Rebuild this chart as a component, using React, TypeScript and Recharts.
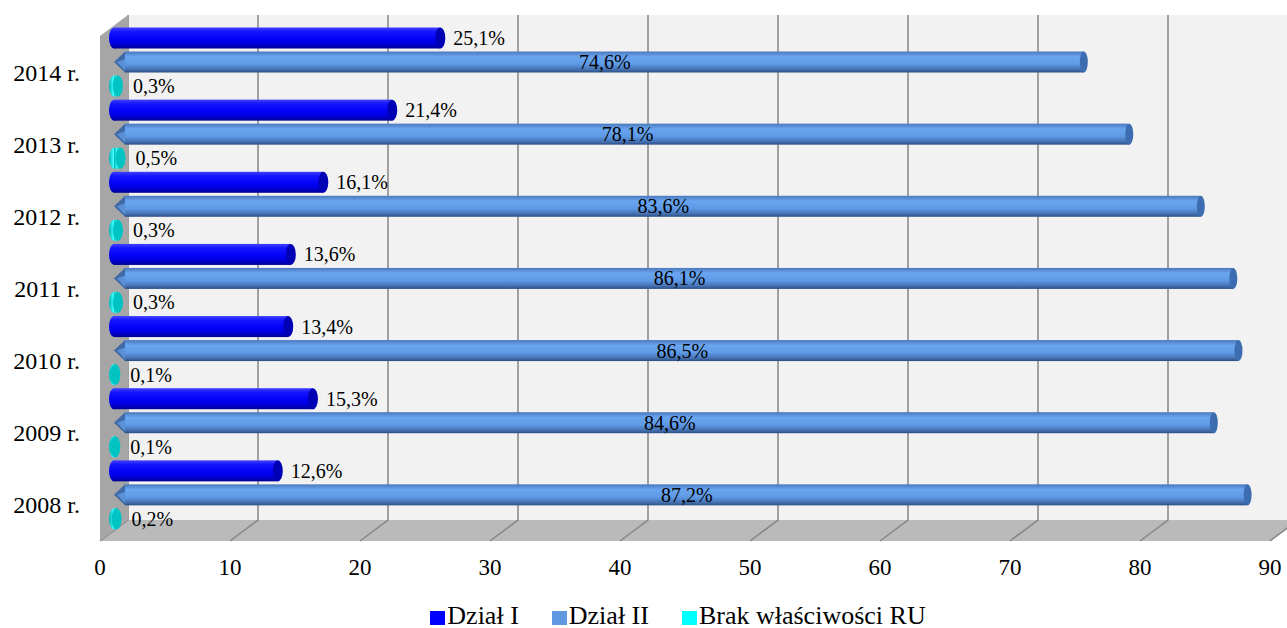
import React from 'react';
import { BarChart, Bar, XAxis, YAxis, Legend, LabelList, usePlotArea } from 'recharts';

const years = ['2014 r.', '2013 r.', '2012 r.', '2011 r.', '2010 r.', '2009 r.', '2008 r.'];
const dzialI = [25.1, 21.4, 16.1, 13.6, 13.4, 15.3, 12.6];
const dzialII = [74.6, 78.1, 83.6, 86.1, 86.5, 84.6, 87.2];
const brakRU = [0.3, 0.5, 0.3, 0.3, 0.1, 0.1, 0.2];
const xTicks = [0, 10, 20, 30, 40, 50, 60, 70, 80, 90];
const X_MAX = 90;

const data = years.map((year, i) => ({ year, d1: dzialI[i], d2: dzialII[i], brak: brakRU[i] }));

const FONT = '"Liberation Serif", "Times New Roman", serif';
// 3D depth of the "box"
const DX = 28;
const DY = 21;

const fmt = (v: number) => v.toFixed(1).replace('.', ',') + '%';

// back wall, side wall, floor and the gridlines on them
function Walls() {
  const area = usePlotArea();
  if (!area) return null;
  const { x, y, width: w, height: h } = area;
  const bottom = y + h;
  return (
    <g>
      <defs>
        <linearGradient id="gD1" x1="0" y1="0" x2="0" y2="1">
          <stop offset="0%" stopColor="#4040ff" />
          <stop offset="20%" stopColor="#1515ff" />
          <stop offset="60%" stopColor="#0000f5" />
          <stop offset="85%" stopColor="#0000c8" />
          <stop offset="100%" stopColor="#000090" />
        </linearGradient>
        <linearGradient id="gD2" x1="0" y1="0" x2="0" y2="1">
          <stop offset="0%" stopColor="#4a78bd" />
          <stop offset="25%" stopColor="#6aa5f0" />
          <stop offset="60%" stopColor="#5f9ae6" />
          <stop offset="85%" stopColor="#4673b5" />
          <stop offset="100%" stopColor="#2c4f85" />
        </linearGradient>
        <linearGradient id="gBr" x1="0" y1="0" x2="1" y2="0">
          <stop offset="0%" stopColor="#00b0b0" />
          <stop offset="45%" stopColor="#40ffff" />
          <stop offset="100%" stopColor="#00a0a0" />
        </linearGradient>
      </defs>
      <rect x={x + DX} y={y - DY} width={w} height={h} fill="#f2f2f2" />
      <polygon points={`${x},${bottom} ${x + w},${bottom} ${x + w + DX},${bottom - DY} ${x + DX},${bottom - DY}`} fill="#bababa" />
      {xTicks.map((t) => {
        const tx = x + (t / X_MAX) * w;
        return (
          <polyline
            key={t}
            points={`${tx},${bottom} ${tx + DX},${bottom - DY} ${tx + DX},${y - DY}`}
            fill="none"
            stroke="#868686"
            strokeWidth={1.5}
          />
        );
      })}
      <polygon points={`${x},${y} ${x + DX},${y - DY} ${x + DX},${bottom - DY} ${x},${bottom}`} fill="#a6a6a6" />
    </g>
  );
}

const makeCylinder = (grad: string, cap: string, arrow: boolean) => (props: any) => {
  const { x, y, width, height } = props;
  const x0 = x + DX / 2;
  const y0 = y - DY / 2;
  const x1 = x0 + width;
  const cy = y0 + height / 2;
  const ry = height / 2;
  const rx = 4;
  if (arrow) {
    const xs = x0 + 11;
    return (
      <g>
        <rect x={xs} y={y0} width={Math.max(x1 - xs, 0)} height={height} fill={`url(#${grad})`} />
        <polygon points={`${x0},${cy} ${xs},${y0} ${xs},${y0 + height}`} fill="#3f6aa6" />
        <polygon points={`${x0 + 3},${cy} ${xs},${cy - 3} ${xs},${y0 + height - 2}`} fill="#5b8fd6" />
        <ellipse cx={x1} cy={cy} rx={rx} ry={ry} fill={cap} />
      </g>
    );
  }
  return (
    <g>
      <ellipse cx={x0} cy={cy} rx={rx + 1} ry={ry} fill={`url(#${grad})`} />
      <rect x={x0} y={y0} width={width} height={height} fill={`url(#${grad})`} />
      <ellipse cx={x1} cy={cy} rx={rx + 1} ry={ry} fill={cap} />
    </g>
  );
};

const labelRight = (gap: number) => (p: any) => (
  <text
    x={p.x + p.width + gap}
    y={p.y + p.height / 2 - DY / 2}
    dy="0.35em"
    fontFamily={FONT}
    fontSize={20}
    fill="#000"
  >
    {fmt(p.value)}
  </text>
);

const labelCenter = (p: any) => (
  <text
    x={p.x + DX / 2 + p.width / 2 + 6}
    y={p.y + p.height / 2 - DY / 2}
    dy="0.35em"
    textAnchor="middle"
    fontFamily={FONT}
    fontSize={20}
    fill="#000"
  >
    {fmt(p.value)}
  </text>
);

const legendItems = [
  { name: 'Dział I', color: '#0000ff' },
  { name: 'Dział II', color: '#5f97e0' },
  { name: 'Brak właściwości RU', color: '#00ffff' },
];

const renderLegend = () => (
  <div
    style={{
      height: 42,
      display: 'flex',
      justifyContent: 'center',
      alignItems: 'flex-start',
      paddingTop: 16,
      paddingLeft: 86,
      boxSizing: 'border-box',
      gap: 33,
      fontFamily: FONT,
      fontSize: 26,
      lineHeight: '28px',
      color: '#000',
    }}
  >
    {legendItems.map((it) => (
      <div key={it.name} style={{ display: 'flex', alignItems: 'center' }}>
        <span style={{ width: 15, height: 14, background: it.color, display: 'inline-block', marginRight: 2, marginTop: 4 }} />
        <span>{it.name}</span>
      </div>
    ))}
  </div>
);

export default function App() {
  return (
    <div style={{ position: 'absolute', left: 0, top: 0, background: '#fff' }}>
      <BarChart
        width={1287}
        height={628}
        data={data}
        layout="vertical"
        margin={{ top: 36, right: 17, left: 0, bottom: 0 }}
        barSize={21}
        barGap={3}
      >
        <Walls />
        <XAxis
          type="number"
          domain={[0, X_MAX]}
          ticks={xTicks}
          interval={0}
          axisLine={false}
          tickLine={false}
          tickSize={0}
          tickMargin={18}
          height={45}
          tick={{ fontFamily: FONT, fontSize: 23, fill: '#000' }}
        />
        <YAxis
          type="category"
          dataKey="year"
          width={100}
          axisLine={false}
          tickLine={false}
          tickSize={0}
          tickMargin={20}
          tick={{ fontFamily: FONT, fontSize: 24, fill: '#000' }}
        />
        <Legend verticalAlign="bottom" content={renderLegend} />
        <Bar dataKey="d1" name="Dział I" fill="#0000ff" isAnimationActive={false} shape={makeCylinder('gD1', '#0000b4', false)}>
          <LabelList dataKey="d1" content={labelRight(27)} />
        </Bar>
        <Bar dataKey="d2" name="Dział II" fill="#5f97e0" isAnimationActive={false} shape={makeCylinder('gD2', '#3d6cb0', true)}>
          <LabelList dataKey="d2" content={labelCenter} />
        </Bar>
        <Bar dataKey="brak" name="Brak właściwości RU" fill="#00ffff" isAnimationActive={false} shape={makeCylinder('gBr', '#00c4c4', false)}>
          <LabelList dataKey="brak" content={labelRight(29)} />
        </Bar>
      </BarChart>
    </div>
  );
}
